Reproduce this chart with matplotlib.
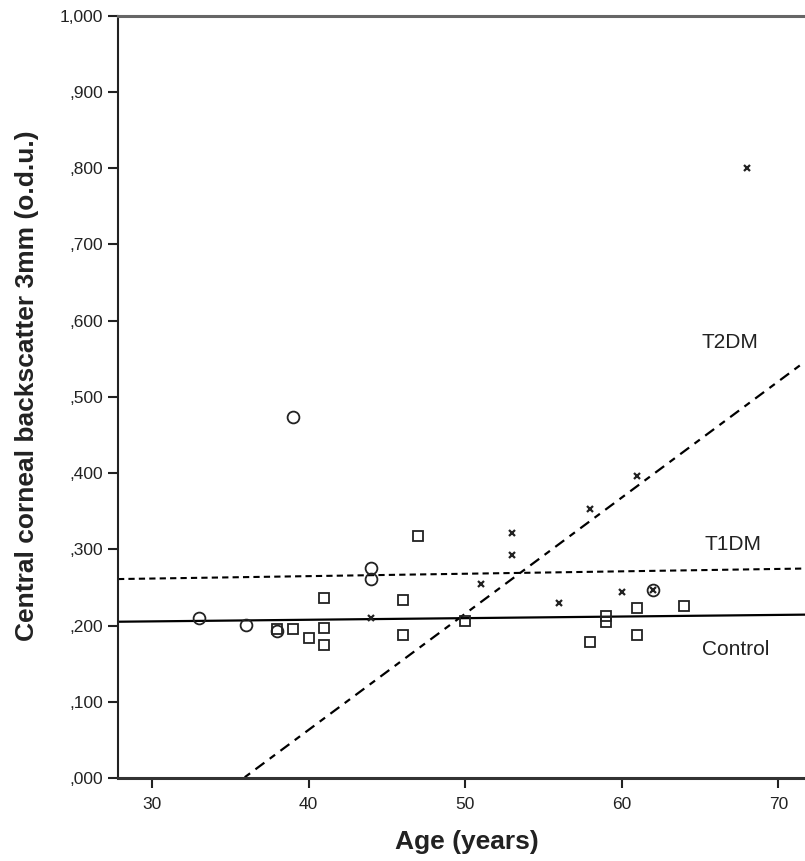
import matplotlib
matplotlib.use("Agg")
import matplotlib.pyplot as plt
from matplotlib.ticker import FuncFormatter
import numpy as np

# ---- data ----
control_age = [38, 39, 40, 41, 41, 41, 46, 46, 47, 50, 58, 59, 59, 61, 61, 64]
control_val = [0.196, 0.195, 0.184, 0.236, 0.197, 0.174, 0.234, 0.187, 0.318, 0.206,
               0.178, 0.212, 0.205, 0.223, 0.188, 0.226]

t1dm_age = [33, 36, 38, 39, 44, 44, 62]
t1dm_val = [0.210, 0.201, 0.193, 0.474, 0.275, 0.261, 0.247]

t2dm_age = [44, 51, 53, 53, 56, 58, 60, 61, 62, 68]
t2dm_val = [0.210, 0.254, 0.321, 0.293, 0.230, 0.3525, 0.2435, 0.396, 0.2466, 0.800]

# fit lines (intercept, slope)
control_fit = (0.1991, 0.000212)
t1dm_fit = (0.2522, 0.000315)
t2dm_fit = (-0.5465, 0.01524)

group_names = ["T2DM", "T1DM", "Control"]
label_pos_x = [66.9, 67.1, 67.3]
label_pos_y = [0.571, 0.306, 0.168]

xticks = [30, 40, 50, 60, 70]
yticks = [0.0, 0.1, 0.2, 0.3, 0.4, 0.5, 0.6, 0.7, 0.8, 0.9, 1.0]
xlim = (27.83, 71.7)

plt.rcParams['font.family'] = ['Liberation Sans', 'DejaVu Sans']

fig = plt.figure(figsize=(8.05, 8.61), dpi=100)
ax = fig.add_axes([118/805, 1 - 778/861, 1 - 118/805, (778 - 15.7)/861])

# fit lines
xs = np.array(xlim)
ax.plot(xs, control_fit[0] + control_fit[1]*xs, color='black', lw=1.6, solid_capstyle='butt', zorder=2)
ax.plot(xs, t1dm_fit[0] + t1dm_fit[1]*xs, color='black', lw=1.5, dashes=(3, 2), zorder=2)
ax.plot(xs, t2dm_fit[0] + t2dm_fit[1]*xs, color='black', lw=1.6, dashes=(5, 3, 3, 3), zorder=2)

# points
ax.plot(control_age, control_val, linestyle='none', marker='s', markersize=7,
        markerfacecolor='none', markeredgecolor='#222222', markeredgewidth=1.3, zorder=3)
ax.plot(t1dm_age, t1dm_val, linestyle='none', marker='o', markersize=8.5,
        markerfacecolor='none', markeredgecolor='#222222', markeredgewidth=1.3, zorder=3)
ax.plot(t2dm_age, t2dm_val, linestyle='none', marker='x', markersize=4.5,
        markeredgecolor='#222222', markeredgewidth=1.6, zorder=3)

for name, lx, ly in zip(group_names, label_pos_x, label_pos_y):
    ax.text(lx, ly, name, ha='center', va='center', fontsize=15, color='#222222')

ax.set_xlim(*xlim)
ax.set_ylim(0, 1.0)
ax.set_xticks(xticks)
ax.set_yticks(yticks)

def yfmt(v, pos):
    if abs(v - 1.0) < 1e-9:
        return "1,000"
    return "," + f"{v:.3f}".split(".")[1]

ax.yaxis.set_major_formatter(FuncFormatter(yfmt))
ax.tick_params(axis='both', direction='out', length=7.5, width=1.5, colors='#222222',
               labelsize=12.5, labelcolor='#222222')
ax.tick_params(axis='x', pad=6)
ax.tick_params(axis='y', pad=3)

ax.spines['right'].set_visible(False)
ax.spines['top'].set_color('#666666')
ax.spines['top'].set_linewidth(2.2)
ax.spines['bottom'].set_color('#333333')
ax.spines['bottom'].set_linewidth(2.2)
ax.spines['left'].set_color('#222222')
ax.spines['left'].set_linewidth(1.5)

fig.text(467/805, 1 - 842/861, "Age (years)", ha='center', va='center',
         fontsize=19, fontweight='bold', color='#222222')
fig.text(27/805, 1 - 386/861, "Central corneal backscatter 3mm (o.d.u.)", ha='center',
         va='center', rotation=90, fontsize=19, fontweight='bold', color='#222222')

fig.savefig("out.png", dpi=100)
